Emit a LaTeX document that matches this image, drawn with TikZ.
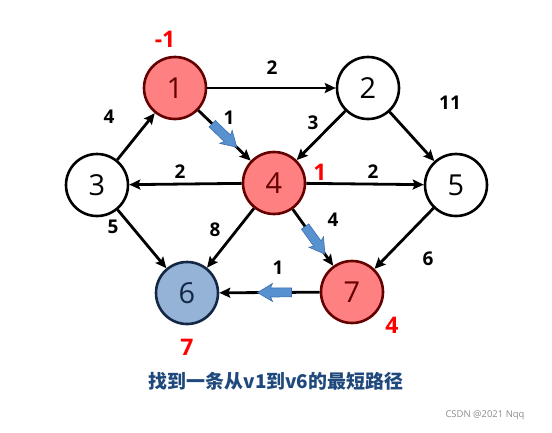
\documentclass[tikz,border=0pt]{standalone}
\usepackage{fontspec}
\setmainfont{Open Sans}
\newfontfamily\cjk{Noto Sans CJK SC}
\usetikzlibrary{arrows.meta}

\definecolor{nodered}{RGB}{255,128,128}
\definecolor{rimred}{RGB}{100,0,0}
\definecolor{nodeblue}{RGB}{149,179,215}
\definecolor{rimblue}{RGB}{20,40,70}
\definecolor{arrowblue}{RGB}{88,145,208}
\definecolor{arrowrim}{RGB}{60,110,170}
\definecolor{titleblue}{RGB}{31,73,125}

\begin{document}
\begin{tikzpicture}[x=1bp, y=-1bp]
\tikzset{
  vertex/.style={circle, draw=black, line width=2.6bp, fill=white, minimum size=62bp, inner sep=0pt, font=\fontsize{29}{29}\selectfont},
  hit/.style={vertex, draw=rimred, fill=nodered, text=rimred},
  goal/.style={vertex, draw=rimblue, fill=nodeblue, text=rimblue},
  edge/.style={line width=2.8bp, -{Stealth[length=11bp, width=10bp, inset=2bp]}},
  wlab/.style={font=\bfseries\fontsize{19}{19}\selectfont, inner sep=0pt},
  dist/.style={font=\bfseries\fontsize{23}{23}\selectfont, text=red, inner sep=0pt},
  blockarrow/.pic={\filldraw[fill=arrowblue, draw=arrowrim, line width=0.6bp]
    (-17,-4.5) -- (4,-4.5) -- (2,-9) -- (17,0) -- (2,9) -- (4,4.5) -- (-17,4.5) -- cycle;}
}
\useasboundingbox (0,0) rectangle (552,432);

\node[hit]    (v1) at (175,88)  {1};
\node[vertex] (v2) at (368,88)  {2};
\node[vertex] (v3) at (97,185)  {3};
\node[hit]    (v4) at (274,183) {4};
\node[vertex] (v5) at (456,185) {5};
\node[goal]   (v6) at (187,293) {6};
\node[hit]    (v7) at (352,292) {7};

\draw[edge] (v1) -- (v2);
\draw[edge] (v2) -- (v5);
\draw[edge] (v2) -- (v4);
\draw[edge] (v3) -- (v1);
\draw[edge] (v1) -- pic[sloped, allow upside down, pos=0.5]{blockarrow} (v4);
\draw[edge] (v4) -- (v3);
\draw[edge] (v4) -- (v5);
\draw[edge] (v4) -- (v6);
\draw[edge] (v4) -- pic[sloped, allow upside down, pos=0.55]{blockarrow} (v7);
\draw[edge] (v3) -- (v6);
\draw[edge] (v5) -- (v7);
\draw[edge] (v7) -- pic[sloped, allow upside down, pos=0.45]{blockarrow} (v6);

\node[wlab] (w12) at (272,68)  {2};
\node[wlab] (w25) at (450,103) {11};
\node[wlab] (w24) at (313,123) {3};
\node[wlab] (w31) at (109,117) {4};
\node[wlab] (w14) at (229,118) {1};
\node[wlab] (w43) at (180,172) {2};
\node[wlab] (w45) at (373,172) {2};
\node[wlab] (w46) at (215,230) {8};
\node[wlab] (w47) at (333,220) {4};
\node[wlab] (w36) at (113,227) {5};
\node[wlab] (w57) at (428,259) {6};
\node[wlab] (w76) at (278,268) {1};

\node[dist] (d1) at (165,39)  {-1};
\node[dist] (d4) at (320,172) {1};
\node[dist] (d7) at (392,325) {4};
\node[dist] (d6) at (187,347) {7};

\node[text=titleblue, font=\cjk\bfseries\fontsize{19}{19}\selectfont] (title) at (276,381) {找到一条从v1到v6的最短路径};
\node[text=black!45, font=\fontsize{9.5}{9.5}\selectfont] (mark) at (485,415) {CSDN @2021 Nqq};
\end{tikzpicture}
\end{document}
